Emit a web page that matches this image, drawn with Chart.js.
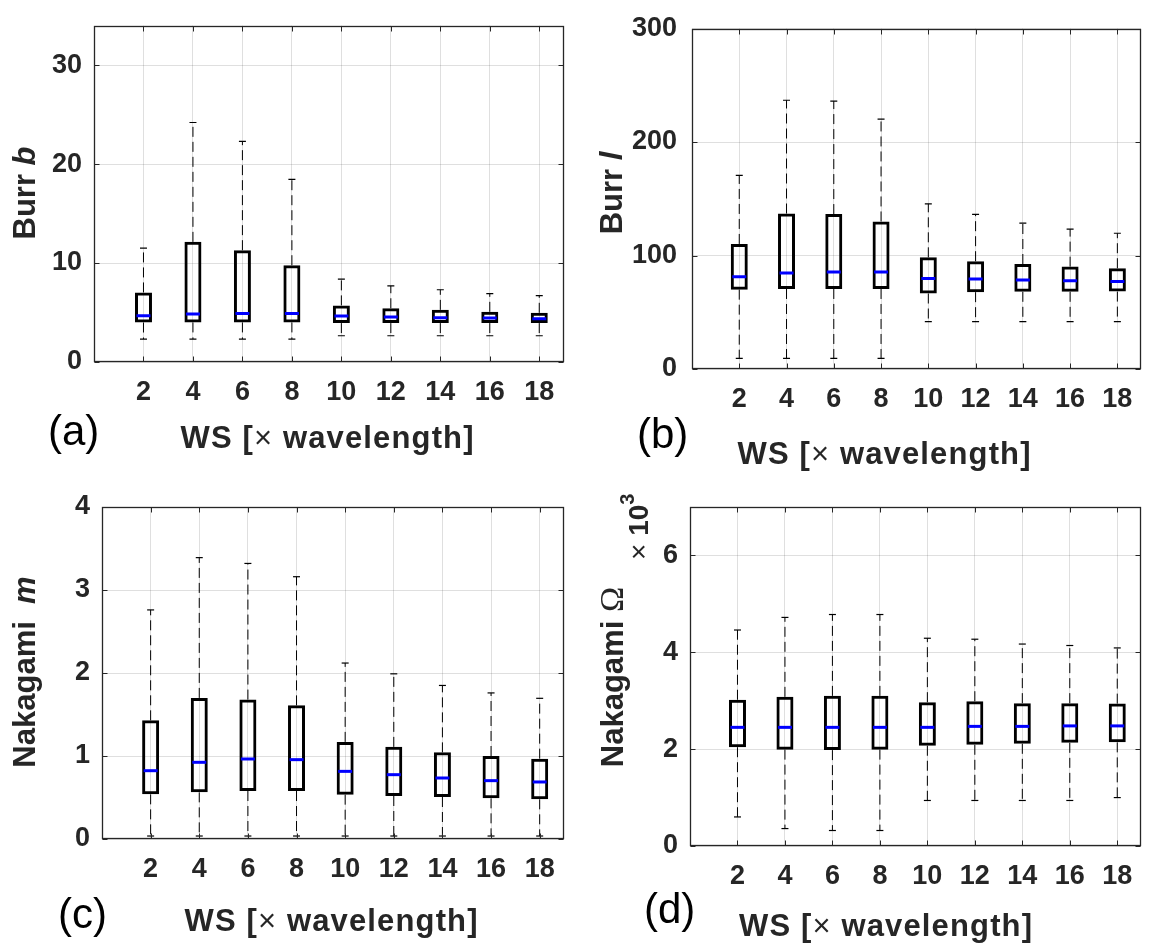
<!DOCTYPE html>
<html><head><meta charset="utf-8">
<script src="https://cdn.jsdelivr.net/npm/chart.js@4/dist/chart.umd.min.js"></script>
<style>
html,body{margin:0;padding:0;background:#fff;width:1151px;height:950px;overflow:hidden;position:relative;}
canvas{position:absolute;display:block;}
svg{position:absolute;left:0;top:0;pointer-events:none;}
</style></head><body>
<canvas id="pa" width="580" height="420" style="left:0;top:0"></canvas>
<canvas id="pb" width="551" height="430" style="left:600px;top:0"></canvas>
<canvas id="pc" width="580" height="430" style="left:0;top:470px"></canvas>
<canvas id="pd" width="551" height="440" style="left:600px;top:470px"></canvas>
<svg width="1151" height="950">
 <g font-family="Liberation Sans, Arial, sans-serif">
  <text x="48" y="445" font-size="42" fill="#000">(a)</text>
  <text x="637" y="448" font-size="42" fill="#000">(b)</text>
  <text x="58" y="928" font-size="42" fill="#000">(c)</text>
  <text x="644" y="923" font-size="42" fill="#000">(d)</text>
  <g fill="#262626" font-size="31" font-weight="bold">
   <text x="327" y="448" text-anchor="middle" textLength="293">WS [<tspan font-weight="normal">×</tspan> wavelength]</text>
   <text x="884" y="464" text-anchor="middle" textLength="293">WS [<tspan font-weight="normal">×</tspan> wavelength]</text>
   <text x="331" y="931" text-anchor="middle" textLength="293">WS [<tspan font-weight="normal">×</tspan> wavelength]</text>
   <text x="885.5" y="935.5" text-anchor="middle" textLength="293">WS [<tspan font-weight="normal">×</tspan> wavelength]</text>
   <text transform="translate(35,193) rotate(-90)" text-anchor="middle">Burr <tspan font-style="italic">b</tspan></text>
   <text transform="translate(622,193) rotate(-90)" text-anchor="middle">Burr <tspan font-style="italic">l</tspan></text>
   <text transform="translate(35,672) rotate(-90)" text-anchor="middle" style="white-space:pre">Nakagami  <tspan font-style="italic">m</tspan></text>
   <text transform="translate(623,677) rotate(-90)" text-anchor="middle">Nakagami <tspan font-family="Liberation Serif, Times New Roman, serif" font-weight="normal" font-size="34">Ω</tspan></text>
   <text transform="translate(648,560) rotate(-90)" font-size="28"><tspan font-weight="normal">×</tspan> 10<tspan font-size="20" dy="-14">3</tspan></text>
  </g>
 </g>
</svg>
<script>
// ---- data ----
const wsValues = [2, 4, 6, 8, 10, 12, 14, 16, 18];

const burrBMin = [2.32, 2.32, 2.32, 2.32, 2.65, 2.65, 2.65, 2.65, 2.65];
const burrBQ1  = [3.99, 4.00, 4.00, 4.00, 3.93, 3.93, 3.93, 3.93, 3.93];
const burrBMed = [4.68, 4.84, 4.90, 4.90, 4.65, 4.55, 4.48, 4.45, 4.38];
const burrBQ3  = [7.03, 12.14, 11.30, 9.78, 5.72, 5.43, 5.27, 5.07, 4.97];
const burrBMax = [11.5, 24.2, 22.3, 18.45, 8.37, 7.69, 7.30, 6.90, 6.70];

const burrLMin = [9.3, 9.3, 9.3, 9.3, 41.7, 41.7, 41.7, 41.7, 41.7];
const burrLQ1  = [69.9, 70.5, 70.5, 70.5, 66.5, 67.7, 68.0, 68.0, 68.2];
const burrLMed = [81.2, 84.6, 85.4, 85.4, 79.8, 79.2, 78.4, 77.8, 77.0];
const burrLQ3  = [110.2, 137.0, 136.5, 130.0, 98.4, 95.0, 92.5, 90.2, 88.8];
const burrLMax = [170.6, 236.8, 236.0, 220.2, 145.5, 136.2, 128.6, 123.2, 119.6];

const nakMMin = [0.036, 0.036, 0.036, 0.036, 0.036, 0.036, 0.036, 0.036, 0.036];
const nakMQ1  = [0.538, 0.562, 0.578, 0.578, 0.534, 0.518, 0.506, 0.490, 0.478];
const nakMMed = [0.823, 0.924, 0.964, 0.956, 0.815, 0.775, 0.735, 0.703, 0.687];
const nakMQ3  = [1.43, 1.70, 1.68, 1.61, 1.17, 1.11, 1.044, 1.00, 0.968];
const nakMMax = [2.76, 3.39, 3.32, 3.16, 2.12, 1.99, 1.85, 1.76, 1.695];

const nakOMin = [600, 360, 320, 320, 940, 940, 940, 940, 1000];
const nakOQ1  = [2040, 1990, 1980, 1990, 2070, 2090, 2110, 2130, 2140];
const nakOMed = [2450, 2450, 2450, 2450, 2450, 2470, 2470, 2480, 2480];
const nakOQ3  = [3020, 3080, 3100, 3100, 2970, 2990, 2950, 2950, 2940];
const nakOMax = [4460, 4720, 4780, 4780, 4290, 4270, 4170, 4140, 4090];

const yTicksA = [0, 10, 20, 30];
const yTicksB = [0, 100, 200, 300];
const yTicksC = [0, 1, 2, 3, 4];
const yTicksD = [0, 2000, 4000, 6000];

// ---- drawing ----
const FONT = '"Liberation Sans", Arial, sans-serif';
const INK = '#262626';
const GRID = 'rgba(38,38,38,0.15)';

const framePlugin = {
  id: 'frame',
  afterDatasetsDraw(chart) {
    const {ctx, chartArea} = chart;
    const L = Math.round(chartArea.left) + 0.5, R = Math.round(chartArea.right) - 0.5;
    const T = Math.round(chartArea.top) + 0.5, B = Math.round(chartArea.bottom) - 0.5;
    const tl = 5;
    ctx.save();
    ctx.strokeStyle = INK;
    ctx.lineWidth = 1;
    ctx.beginPath();
    chart.scales.x.ticks.forEach(t => {
      const p = Math.round(chart.scales.x.getPixelForValue(t.value)) + 0.5;
      ctx.moveTo(p, B); ctx.lineTo(p, B - tl);
      ctx.moveTo(p, T); ctx.lineTo(p, T + tl);
    });
    chart.scales.y.ticks.forEach(t => {
      const p = Math.round(chart.scales.y.getPixelForValue(t.value)) + 0.5;
      ctx.moveTo(L, p); ctx.lineTo(L + tl, p);
      ctx.moveTo(R, p); ctx.lineTo(R - tl, p);
    });
    ctx.stroke();
    ctx.lineWidth = 1.3;
    ctx.strokeRect(L, T, R - L, B - T);
    ctx.restore();
  }
};

function boxPanel(id, s, lay) {
  const medians = wsValues.map((x, i) => ({x, y: s.med[i]}));
  const caps = wsValues.flatMap((x, i) => [{x, y: s.max[i]}, {x, y: s.min[i]}]);
  const whiskers = wsValues.flatMap((x, i) => [
    {x, y: s.q3[i]}, {x, y: s.max[i]}, {x, y: null},
    {x, y: s.q1[i]}, {x, y: s.min[i]}, {x, y: null}
  ]);
  const boxes = wsValues.map((x, i) => ({x, y: [s.q1[i], s.q3[i]]}));
  const tickFont = {family: FONT, size: 27, weight: 'bold', lineHeight: 1};
  return new Chart(document.getElementById(id), {
    type: 'bar',
    data: {
      datasets: [
        {type: 'scatter', data: medians, pointStyle: 'line', pointRadius: 7,
         pointBorderWidth: 3, pointBorderColor: '#0000ff', borderColor: '#0000ff',
         backgroundColor: '#0000ff', order: 0},
        {type: 'scatter', data: caps, pointStyle: 'line', pointRadius: 3.5,
         pointBorderWidth: 1.2, pointBorderColor: '#000', borderColor: '#000', order: 1},
        {type: 'line', data: whiskers, borderColor: '#000', borderWidth: 1,
         borderDash: [10, 5], pointRadius: 0, spanGaps: false, fill: false,
         tension: 0, order: 2},
        {type: 'bar', data: boxes, backgroundColor: 'rgba(0,0,0,0)', borderColor: '#000',
         borderWidth: 3, borderSkipped: false, barThickness: 17, inflateAmount: 0, order: 3}
      ]
    },
    options: {
      responsive: false, animation: false, devicePixelRatio: 1,
      layout: {padding: {left: 0, top: lay.padTop, right: lay.padRight, bottom: 0}},
      plugins: {legend: {display: false}, tooltip: {enabled: false}},
      scales: {
        x: {
          type: 'linear', min: 0, max: 19, offset: false,
          afterBuildTicks: sc => { sc.ticks = wsValues.map(v => ({value: v})); },
          afterFit: sc => { sc.height = lay.xH; },
          grid: {color: GRID, drawTicks: false, offset: false},
          border: {display: false},
          ticks: {font: tickFont, color: INK, padding: 17, maxRotation: 0, autoSkip: false}
        },
        y: {
          type: 'linear', min: s.ymin, max: s.ymax,
          afterBuildTicks: sc => { sc.ticks = s.yTicks.map(v => ({value: v})); },
          afterFit: sc => { sc.width = lay.yW; },
          grid: {color: GRID, drawTicks: false},
          border: {display: false},
          ticks: {font: tickFont, color: INK, padding: lay.yPad,
                  callback: s.fmt || (v => String(v))}
        }
      }
    },
    plugins: [framePlugin]
  });
}

boxPanel('pa', {min: burrBMin, q1: burrBQ1, med: burrBMed, q3: burrBQ3, max: burrBMax,
  ymin: 0, ymax: 34, yTicks: yTicksA}, {padTop: 15, padRight: 16, xH: 58, yW: 94, yPad: 12});
boxPanel('pb', {min: burrLMin, q1: burrLQ1, med: burrLMed, q3: burrLQ3, max: burrLMax,
  ymin: 0, ymax: 300, yTicks: yTicksB}, {padTop: 15, padRight: 1, xH: 61, yW: 92, yPad: 15});
boxPanel('pc', {min: nakMMin, q1: nakMQ1, med: nakMMed, q3: nakMQ3, max: nakMMax,
  ymin: 0, ymax: 4, yTicks: yTicksC}, {padTop: 37, padRight: 16, xH: 61, yW: 102, yPad: 12});
boxPanel('pd', {min: nakOMin, q1: nakOQ1, med: nakOMed, q3: nakOQ3, max: nakOMax,
  ymin: 0, ymax: 7000, yTicks: yTicksD, fmt: v => String(v / 1000)},
  {padTop: 37, padRight: 2, xH: 64, yW: 90, yPad: 12});
</script>
</body></html>
